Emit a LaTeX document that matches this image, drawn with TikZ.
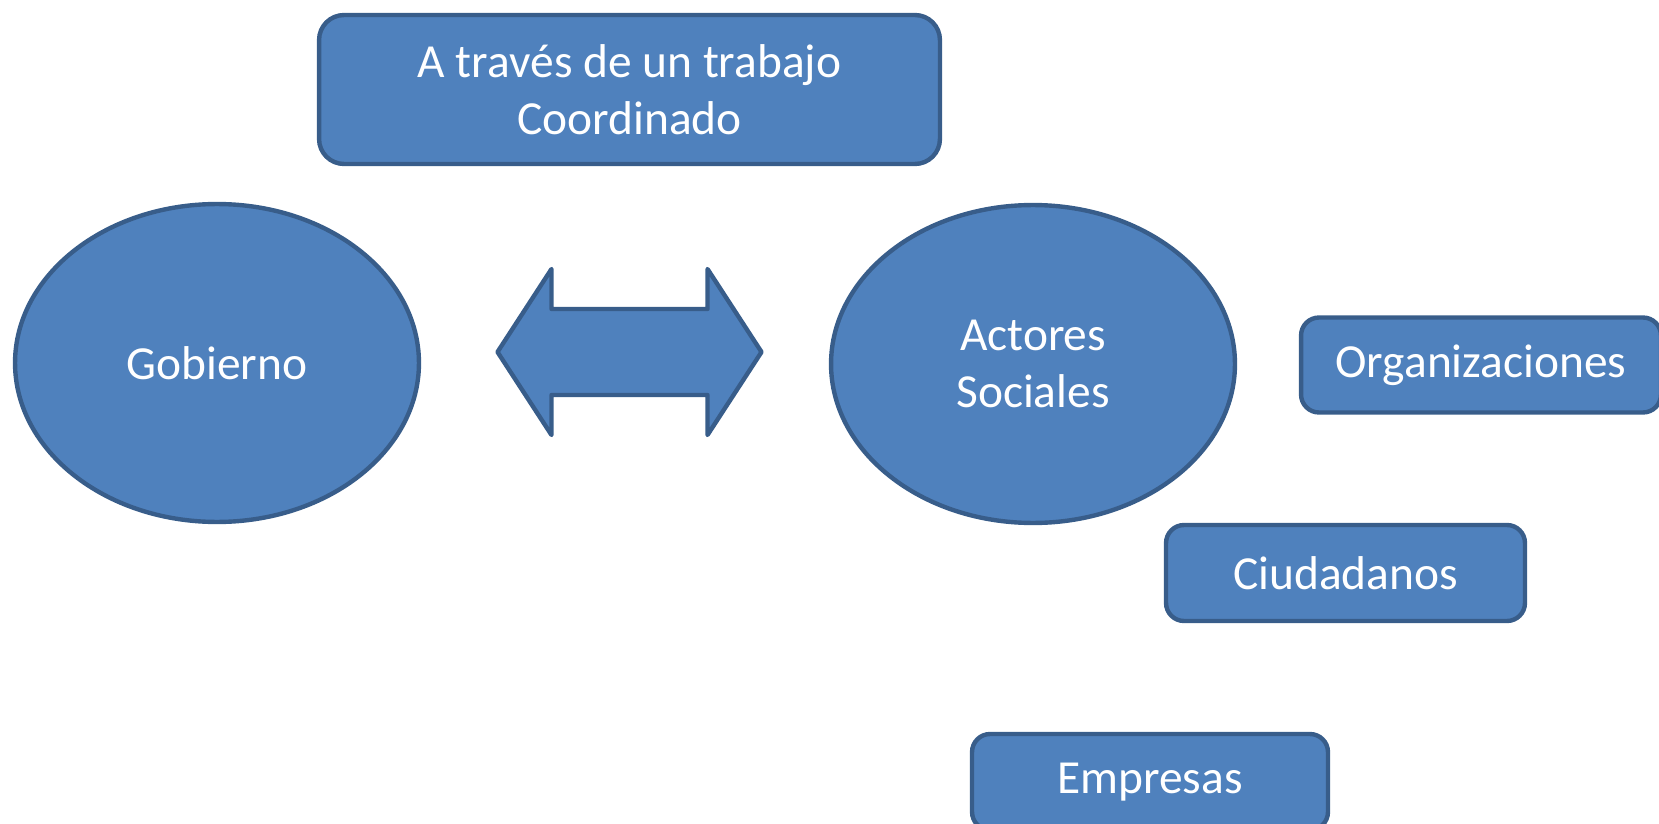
\documentclass[tikz,border=0pt]{standalone}
\usepackage{fontspec}
\setmainfont{Carlito}
\usetikzlibrary{shapes.geometric}
\definecolor{boxfill}{HTML}{4F81BD}
\definecolor{boxline}{HTML}{385D8A}

\begin{document}
\begin{tikzpicture}[
    x=0.02cm, y=-0.02cm,
    every node/.style={font=\fontsize{27}{32.4}\selectfont, text=white, align=center},
    blob/.style={draw=boxline, fill=boxfill, line width=2.5pt, ellipse, inner sep=0pt,
                 minimum width=8.08cm, minimum height=6.36cm},
    tag/.style={draw=boxline, fill=boxfill, line width=2.5pt, rounded corners=0.36cm,
                inner sep=0pt, minimum height=1.92cm}
    ]
    \useasboundingbox (0,0) rectangle (1659,824);

    \node[tag, rounded corners=0.5cm, minimum width=12.42cm, minimum height=2.98cm] (coord) at (629.5,89.5)
        {A través de un trabajo\\Coordinado};
    \node[blob] (gob) at (217,363) {Gobierno};
    \node[blob] (act) at (1033,364) {Actores\\Sociales};
    \node[tag, minimum width=7.2cm, minimum height=1.9cm] (org) at (1481,365) {Organizaciones};
    \node[tag, minimum width=7.18cm] (ciu) at (1345.5,573) {Ciudadanos};
    \node[tag, minimum width=7.12cm] (emp) at (1150,782) {Empresas};

    % double arrow between the two ellipses
    \coordinate (link) at (629.5,352);
    \begin{scope}[shift={(link)}]
      \draw[draw=boxline, fill=boxfill, line width=2.5pt, line join=round]
        (-132,0) -- (-78,-83) -- (-78,-43) -- (78,-43) -- (78,-83) -- (132,0)
        -- (78,83) -- (78,43) -- (-78,43) -- (-78,83) -- cycle;
    \end{scope}

\end{tikzpicture}
\end{document}
